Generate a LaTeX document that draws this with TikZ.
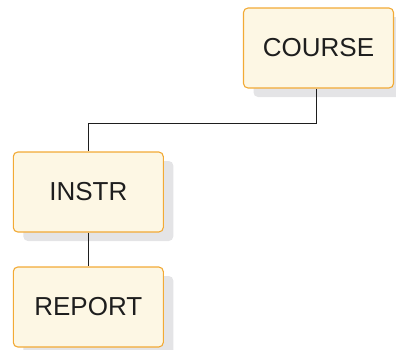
\documentclass[tikz,border=0pt]{standalone}
\usepackage{xcolor}
\usepackage{fontspec}
\setmainfont{Liberation Sans}
\usepackage{tikz}
\usetikzlibrary{shadows}

\definecolor{boxfill}{HTML}{FDF7E4}
\definecolor{boxline}{HTML}{F2AA35}
\definecolor{shadowgray}{HTML}{E4E4E6}
\definecolor{textcol}{HTML}{1E1E1E}

\tikzset{
	segment/.style={draw=boxline, fill=boxfill, line width=1.1pt, rounded corners=4.5pt,
		minimum width=150pt, minimum height=80pt, inner sep=0pt,
		font=\fontsize{26}{30}\selectfont, text=textcol,
		general shadow={fill=shadowgray, shadow xshift=10pt, shadow yshift=-9pt, rounded corners=4.5pt}},
}

\begin{document}
\begin{tikzpicture}[x=1pt, y=-1pt]
	\useasboundingbox (0,0) rectangle (396,349);
	
	\node[segment] (course) at (318.5,48) {COURSE};
	\node[segment] (instr) at (88.3,192) {INSTR};
	\node[segment] (report) at (88.3,307) {REPORT};
	
	\coordinate (bend) at (316,123);
	\draw[draw=textcol, line width=0.9pt] (course.south -| bend) -- (bend) -| (instr.north);
	\draw[draw=textcol, line width=0.9pt] (instr.south) -- (report.north);
\end{tikzpicture}
\end{document}
